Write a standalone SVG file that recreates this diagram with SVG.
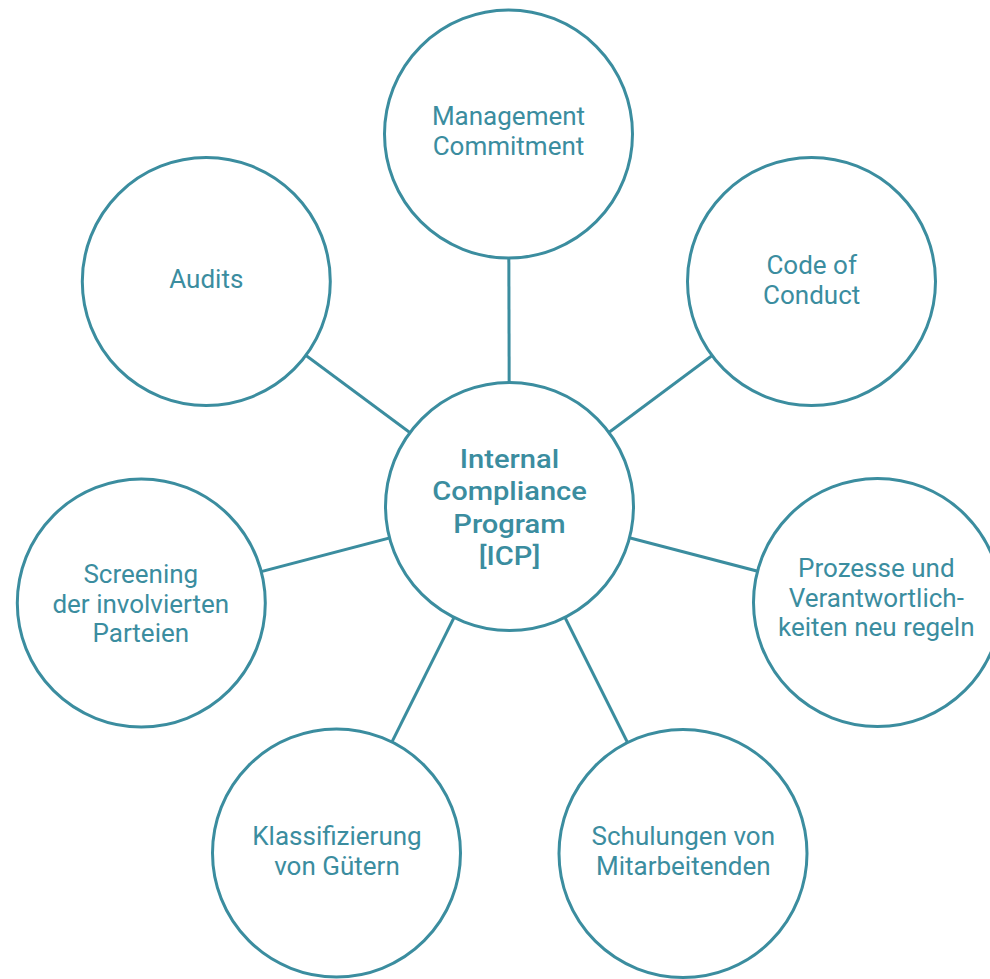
<svg xmlns="http://www.w3.org/2000/svg" width="990" height="979" viewBox="0 0 990 979">
<style>
.c{fill:#ffffff;stroke:#3b8d9f;stroke-width:3}
.l{stroke:#3b8d9f;stroke-width:3;fill:none}
.t{font-family:Roboto,"Liberation Sans",sans-serif;font-size:26px;fill:#3b8d9f;text-anchor:middle}
.b{font-weight:500}
</style>
<rect width="990" height="979" fill="#ffffff"/>
<g id="connectors">
<line class="l" x1="509.5" y1="506.5" x2="508.5" y2="134"/>
<line class="l" x1="509.5" y1="506.5" x2="811.5" y2="281.5"/>
<line class="l" x1="509.5" y1="506.5" x2="877.5" y2="602.5"/>
<line class="l" x1="509.5" y1="506.5" x2="683" y2="853.5"/>
<line class="l" x1="509.5" y1="506.5" x2="336.5" y2="853"/>
<line class="l" x1="509.5" y1="506.5" x2="141.3" y2="603"/>
<line class="l" x1="509.5" y1="506.5" x2="206.3" y2="281.5"/>
</g>
<g id="center">
<circle class="c" cx="509.5" cy="506.5" r="124"/>
<g transform="translate(509.5,0) scale(1.12,1)">
<text class="t b" x="0" y="468">Internal</text>
<text class="t b" x="0" y="500.5">Compliance</text>
<text class="t b" x="0" y="533">Program</text>
<text class="t b" x="0" y="565.5">[ICP]</text>
</g>
</g>
<g id="management">
<circle class="c" cx="508.5" cy="134" r="124"/>
<text class="t" x="508.5" y="125">Management</text>
<text class="t" x="508.5" y="155">Commitment</text>
</g>
<g id="code">
<circle class="c" cx="811.5" cy="281.5" r="124"/>
<text class="t" x="811.7" y="274">Code of</text>
<text class="t" x="811.7" y="304">Conduct</text>
</g>
<g id="prozesse">
<circle class="c" cx="877.5" cy="602.5" r="124"/>
<text class="t" x="876.3" y="577">Prozesse und</text>
<text class="t" x="876.3" y="606.5">Verantwortlich-</text>
<text class="t" x="876.3" y="636">keiten neu regeln</text>
</g>
<g id="schulungen">
<circle class="c" cx="683" cy="853.5" r="124"/>
<text class="t" x="683.3" y="845">Schulungen von</text>
<text class="t" x="683.3" y="875">Mitarbeitenden</text>
</g>
<g id="klassifizierung">
<circle class="c" cx="336.5" cy="853" r="124"/>
<text class="t" x="337" y="845">Klassifizierung</text>
<text class="t" x="337" y="875">von Gütern</text>
</g>
<g id="screening">
<circle class="c" cx="141.3" cy="603" r="124"/>
<text class="t" x="140.8" y="583">Screening</text>
<text class="t" x="140.8" y="612.5">der involvierten</text>
<text class="t" x="140.8" y="642">Parteien</text>
</g>
<g id="audits">
<circle class="c" cx="206.3" cy="281.5" r="124"/>
<text class="t" x="206.3" y="288.3">Audits</text>
</g>
</svg>
